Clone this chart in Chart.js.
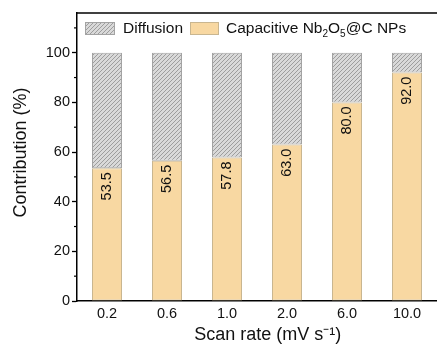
<!DOCTYPE html>
<html>
<head>
<meta charset="utf-8">
<script src="https://cdn.jsdelivr.net/npm/chart.js@4.4.1/dist/chart.umd.min.js"></script>
<style>
  html, body { margin: 0; padding: 0; background: #ffffff; }
  #wrap { width: 437px; height: 347px; }
</style>
</head>
<body>
<div id="wrap"><canvas id="c" width="437" height="347"></canvas></div>
<script>
const categories = ['0.2', '0.6', '1.0', '2.0', '6.0', '10.0'];
const capacitive = [53.5, 56.5, 57.8, 63.0, 80.0, 92.0];
const diffusion = [46.5, 43.5, 42.2, 37.0, 20.0, 8.0];
const capLabels = ['53.5', '56.5', '57.8', '63.0', '80.0', '92.0'];
const yMajorTicks = [0, 20, 40, 60, 80, 100];
const yMinorTicks = [10, 30, 50, 70, 90, 110];

const FONT = "'Liberation Sans', Arial, sans-serif";

function hatchPattern() {
  const s = 4;
  const c = document.createElement('canvas');
  c.width = s; c.height = s;
  const g = c.getContext('2d');
  g.fillStyle = '#d9d9d9';
  g.fillRect(0, 0, s, s);
  g.strokeStyle = '#969696';
  g.lineWidth = 0.9;
  g.beginPath();
  g.moveTo(0, s); g.lineTo(s, 0);
  g.moveTo(-1, 1); g.lineTo(1, -1);
  g.moveTo(s - 1, s + 1); g.lineTo(s + 1, s - 1);
  g.stroke();
  return document.getElementById('c').getContext('2d').createPattern(c, 'repeat');
}
const hatch = hatchPattern();

const decorPlugin = {
  id: 'decor',
  afterDraw(chart) {
    const ctx = chart.ctx;
    const area = chart.chartArea;
    const y = chart.scales.y;
    ctx.save();
    // top frame line
    ctx.strokeStyle = '#000';
    ctx.lineWidth = 1.5;
    ctx.beginPath();
    ctx.moveTo(area.left - 0.75, area.top);
    ctx.lineTo(area.right, area.top);
    ctx.stroke();
    // minor ticks
    ctx.lineWidth = 1.2;
    yMinorTicks.forEach(v => {
      const py = y.getPixelForValue(v);
      ctx.beginPath();
      ctx.moveTo(area.left - 3, py);
      ctx.lineTo(area.left, py);
      ctx.stroke();
    });
    // value labels inside capacitive bars
    const meta = chart.getDatasetMeta(1);
    ctx.fillStyle = '#111';
    ctx.font = '14.5px ' + FONT;
    ctx.textAlign = 'right';
    ctx.textBaseline = 'middle';
    meta.data.forEach((bar, i) => {
      ctx.save();
      ctx.translate(bar.x, bar.y + 4);
      ctx.rotate(-Math.PI / 2);
      ctx.fillText(capLabels[i], 0, 0);
      ctx.restore();
    });
    // legend
    const ds = chart.data.datasets;
    const lx = area.left + 8, ly = area.top + 9, bw = 30, bh = 13;
    ctx.lineWidth = 1;
    ctx.fillStyle = ds[0].backgroundColor;
    ctx.fillRect(lx, ly, bw, bh);
    ctx.strokeStyle = ds[0].borderColor;
    ctx.strokeRect(lx + 0.5, ly + 0.5, bw - 1, bh - 1);
    ctx.fillStyle = '#111';
    ctx.font = '15.5px ' + FONT;
    ctx.textAlign = 'left';
    ctx.textBaseline = 'middle';
    ctx.fillText(ds[0].label, lx + bw + 8, ly + bh / 2 + 0.5);
    const x2 = 190;
    ctx.fillStyle = ds[1].backgroundColor;
    ctx.fillRect(x2, ly, 29, bh);
    ctx.strokeStyle = ds[1].borderColor;
    ctx.strokeRect(x2 + 0.5, ly + 0.5, 28, bh - 1);
    const parts = [['Capacitive Nb', false], ['2', true], ['O', false], ['5', true], ['@C NPs', false]];
    let tx = x2 + 29 + 7;
    const ty = ly + bh / 2 + 0.5;
    ctx.fillStyle = '#111';
    parts.forEach(([t, sub]) => {
      ctx.font = (sub ? '10px ' : '15.5px ') + FONT;
      ctx.fillText(t, tx, sub ? ty + 5 : ty);
      tx += ctx.measureText(t).width;
    });
    ctx.restore();
  }
};

new Chart(document.getElementById('c'), {
  type: 'bar',
  data: {
    labels: categories,
    datasets: [
      {
        label: 'Diffusion',
        data: diffusion,
        backgroundColor: hatch,
        borderColor: '#a3a3a3',
        borderWidth: 1,
        borderSkipped: false,
        stack: 's',
        order: 2
      },
      {
        label: 'Capacitive Nb2O5@C NPs',
        data: capacitive,
        backgroundColor: '#f8d8a2',
        borderColor: '#c9b690',
        borderWidth: 1,
        borderSkipped: false,
        stack: 's',
        order: 1
      }
    ]
  },
  options: {
    responsive: false,
    devicePixelRatio: 1,
    animation: false,
    layout: { padding: { top: 13, right: 0, left: 0, bottom: 0 } },
    plugins: { legend: { display: false }, tooltip: { enabled: false } },
    datasets: { bar: { barPercentage: 0.5, categoryPercentage: 1.0 } },
    scales: {
      x: {
        stacked: true,
        grid: { display: false, drawTicks: false },
        border: { display: true, color: '#000', width: 1.5 },
        ticks: { color: '#111', font: { family: FONT, size: 14.5 }, padding: 4, maxRotation: 0 },
        title: {
          display: true,
          text: '\u2002\u2002\u2009Scan rate (mV s\u207B\u00B9)',
          color: '#111',
          font: { family: FONT, size: 18 },
          padding: { top: 0, bottom: 1 }
        },
        afterFit(scale) { scale.height = 46; }
      },
      y: {
        stacked: true,
        min: 0,
        max: 116,
        afterBuildTicks(scale) { scale.ticks = yMajorTicks.map(v => ({ value: v })); },
        grid: { display: true, drawOnChartArea: false, drawTicks: true, tickLength: 5, tickColor: '#000', tickWidth: 1.3 },
        border: { display: true, color: '#000', width: 1.5 },
        ticks: { color: '#111', font: { family: FONT, size: 14.5 }, padding: 2 },
        title: {
          display: true,
          text: '\u2002Contribution (%)',
          color: '#111',
          font: { family: FONT, size: 18 },
          padding: { top: 10, bottom: 0 }
        },
        afterFit(scale) { scale.width = 77; }
      }
    }
  },
  plugins: [decorPlugin]
});
</script>
</body>
</html>
